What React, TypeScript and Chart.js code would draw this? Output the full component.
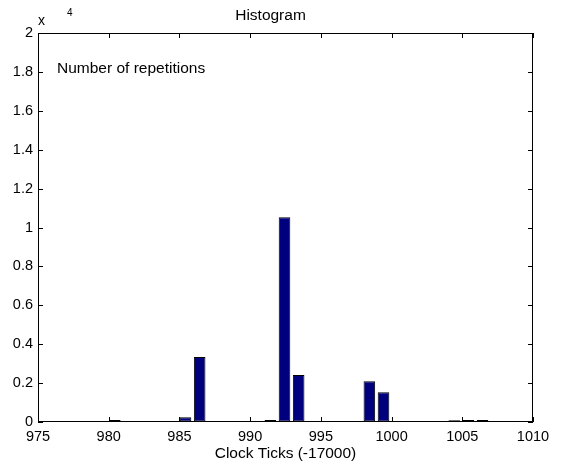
import React, { useEffect, useRef } from "react";
import { Chart, registerables } from "chart.js";

Chart.register(...registerables);

// Histogram bin centres (clock ticks minus 17000) and repetition counts in units of 10^4
const binCenters = [980.43, 985.43, 986.43, 991.43, 992.43, 993.43, 998.43, 999.43, 1004.43, 1005.43, 1006.43];
const repetitions = [0.01, 0.024, 0.334, 0.01, 1.053, 0.242, 0.21, 0.153, 0.009, 0.01, 0.01];

const xRange = [975, 1010];
const xStep = 5;
const yRange = [0, 2];
const yStep = 0.2;

const FONT = "'Liberation Sans', Arial, Helvetica, sans-serif";

// Box frame with inward-pointing ticks on all four sides, plus the free-standing labels
const frameAndLabels = {
  id: "frameAndLabels",
  afterDraw(chart: any) {
    const { ctx, chartArea, scales } = chart;
    const { left, right, top, bottom } = chartArea;
    const L = 5;
    ctx.save();
    ctx.strokeStyle = "#000";
    ctx.lineWidth = 1;
    ctx.beginPath();
    scales.x.ticks.forEach((t: any) => {
      const px = Math.round(scales.x.getPixelForValue(t.value)) + 0.5;
      ctx.moveTo(px, bottom);
      ctx.lineTo(px, bottom - L);
      ctx.moveTo(px, top);
      ctx.lineTo(px, top + L);
    });
    scales.y.ticks.forEach((t: any) => {
      const py = Math.round(scales.y.getPixelForValue(t.value)) + 0.5;
      ctx.moveTo(left, py);
      ctx.lineTo(left + L, py);
      ctx.moveTo(right, py);
      ctx.lineTo(right - L, py);
    });
    ctx.stroke();
    ctx.strokeRect(Math.round(left) + 0.5, Math.round(top) + 0.5, Math.round(right - left) - 1, Math.round(bottom - top) - 1);

    ctx.fillStyle = "#000";
    ctx.textBaseline = "alphabetic";
    ctx.textAlign = "left";
    ctx.font = `15.5px ${FONT}`;
    ctx.fillText("Number of repetitions", left + 19, top + 40);
    ctx.font = `14px ${FONT}`;
    ctx.fillText("x", left, 25);
    ctx.font = `10px ${FONT}`;
    ctx.fillText("4", left + 29, 16);
    ctx.restore();
  },
};

export default function App() {
  const canvasRef = useRef<HTMLCanvasElement | null>(null);

  useEffect(() => {
    document.body.style.margin = "0";
    const canvas = canvasRef.current;
    if (!canvas) return;
    const chart = new Chart(canvas, {
      type: "bar",
      data: {
        datasets: [
          {
            data: binCenters.map((x, i) => ({ x, y: repetitions[i] })),
            backgroundColor: "#00007f",
            borderColor: "#000000",
            borderWidth: 1,
            borderSkipped: false,
            barPercentage: 0.82,
            categoryPercentage: 1,
          },
        ],
      },
      options: {
        responsive: false,
        animation: false,
        events: [],
        layout: { padding: { left: 8, right: 38, top: 0, bottom: 0 } },
        plugins: {
          legend: { display: false },
          tooltip: { enabled: false },
          title: {
            display: true,
            text: "Histogram",
            color: "#000",
            font: { family: FONT, size: 15.5, weight: "normal" },
            padding: { top: 6, bottom: 8.4 },
          },
        },
        scales: {
          x: {
            type: "linear",
            min: xRange[0],
            max: xRange[1],
            offset: false,
            grid: { display: true, drawOnChartArea: false, drawTicks: false },
            border: { display: false },
            ticks: {
              stepSize: xStep,
              color: "#000",
              font: { family: FONT, size: 14.5 },
              padding: 6,
              maxRotation: 0,
              autoSkip: false,
              callback: (v: any) => String(v),
            },
            title: {
              display: true,
              text: "Clock Ticks (-17000)",
              color: "#000",
              font: { family: FONT, size: 15.5 },
              padding: { top: 0, bottom: 2 },
            },
            afterFit: (s: any) => {
              s.height = 43;
            },
          },
          y: {
            min: yRange[0],
            max: yRange[1],
            grid: { display: true, drawOnChartArea: false, drawTicks: false },
            border: { display: false },
            ticks: {
              stepSize: yStep,
              color: "#000",
              font: { family: FONT, size: 14.5 },
              padding: 5,
              callback: (v: any) => String(Math.round(Number(v) * 10) / 10),
            },
            afterFit: (s: any) => {
              s.width = 30;
            },
          },
        },
      },
      plugins: [frameAndLabels],
    });
    return () => chart.destroy();
  }, []);

  return (
    <div style={{ width: 571, height: 465, background: "#fff" }}>
      <canvas ref={canvasRef} width={571} height={465} />
    </div>
  );
}
